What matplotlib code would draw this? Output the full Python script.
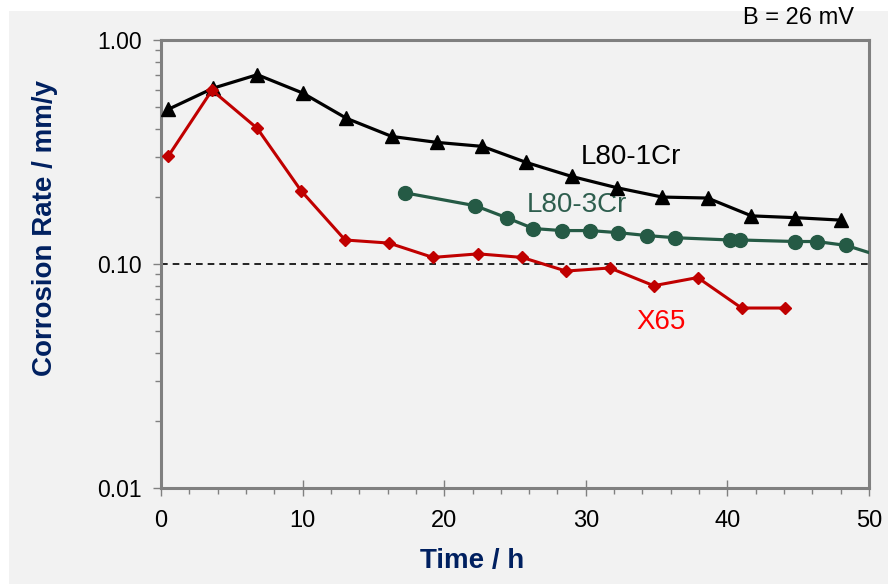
import numpy as np
import matplotlib
matplotlib.use("Agg")
import matplotlib.pyplot as plt
from matplotlib.ticker import FixedLocator, MultipleLocator, FixedFormatter, LogLocator, NullFormatter
from matplotlib.patches import Rectangle

plt.rcParams['font.family'] = ['Liberation Sans', 'DejaVu Sans']

# L80-1Cr (black triangles)
t_1cr = [0.5, 3.7, 6.8, 10.0, 13.1, 16.3, 19.5, 22.7, 25.8, 29.0, 32.2, 35.4, 38.6, 41.7, 44.8, 48.0]
cr_1cr = [0.49, 0.61, 0.70, 0.58, 0.447, 0.371, 0.349, 0.335, 0.284, 0.246, 0.219, 0.199, 0.197, 0.164, 0.161, 0.157]

# L80-3Cr (green circles), last point lies past the axis edge
t_3cr = [17.2, 22.2, 24.4, 26.3, 28.3, 30.3, 32.3, 34.3, 36.3, 40.2, 40.9, 44.8, 46.3, 48.4, 51.5]
cr_3cr = [0.208, 0.182, 0.161, 0.144, 0.141, 0.141, 0.138, 0.134, 0.131, 0.128, 0.128, 0.126, 0.126, 0.121, 0.105]

# X65 (red diamonds)
t_x65 = [0.5, 3.6, 6.8, 9.9, 13.0, 16.1, 19.2, 22.4, 25.5, 28.6, 31.7, 34.8, 37.9, 41.0, 44.1]
cr_x65 = [0.302, 0.597, 0.403, 0.212, 0.128, 0.124, 0.107, 0.111, 0.107, 0.093, 0.096, 0.080, 0.087, 0.0636, 0.0636]

ref_rate = 0.10
y_ticks = [0.01, 0.1, 1.0]
y_labels = ['0.01', '0.10', '1.00']
x_ticks = [0, 10, 20, 30, 40, 50]

fig = plt.figure(figsize=(8.88, 5.84), dpi=100)
fig.patch.set_facecolor('white')
fig.patches.append(Rectangle((9 / 888, 0), 1, 1 - 11 / 584, transform=fig.transFigure,
                             facecolor='#f2f2f2', edgecolor='none', zorder=-10))

ax = fig.add_axes([161 / 888, 1 - 488 / 584, 708 / 888, 448 / 584])
ax.set_facecolor('#f2f2f2')

ax.plot(t_1cr, cr_1cr, color='black', lw=2.3, marker='^', ms=10, zorder=4)
ax.plot(t_3cr, cr_3cr, color='#255a45', lw=2.3, marker='o', ms=10, zorder=3)
ax.plot(t_x65, cr_x65, color='#c00000', lw=2.2, marker='D', ms=6.5, zorder=5)
ax.axhline(ref_rate, color='black', lw=1.2, ls=(0, (4, 3)), zorder=2)

ax.set_yscale('log')
ax.set_ylim(0.01, 1.0)
ax.set_xlim(0, 50)

ax.yaxis.set_major_locator(FixedLocator(y_ticks))
ax.yaxis.set_major_formatter(FixedFormatter(y_labels))
ax.yaxis.set_minor_locator(LogLocator(base=10, subs=np.arange(2, 10)))
ax.yaxis.set_minor_formatter(NullFormatter())
ax.xaxis.set_major_locator(FixedLocator(x_ticks))
ax.xaxis.set_minor_locator(MultipleLocator(2))

for s in ax.spines.values():
    s.set_color('#808080')
    s.set_linewidth(2.2)

ax.tick_params(axis='y', which='major', labelsize=16.5, color='#808080', width=1, length=6, pad=8)
ax.tick_params(axis='x', which='major', labelsize=17, color='#808080', width=1, length=11,
               direction='inout', pad=10)
ax.tick_params(axis='both', which='minor', color='#808080', width=1, length=4, direction='out')

ax.set_xlabel('Time / h', fontsize=20, fontweight='bold', color='#002060')
ax.set_ylabel('Corrosion Rate / mm/y', fontsize=20, fontweight='bold', color='#002060')
ax.xaxis.set_label_coords(0.44, -0.135)
ax.yaxis.set_label_coords(-0.146, 0.58)

ax.text(33.2, 0.30, 'L80-1Cr', fontsize=20, color='black', ha='center', va='center')
ax.text(29.4, 0.184, 'L80-3Cr', fontsize=20, color='#2e5e4e', ha='center', va='center')
ax.text(35.3, 0.055, 'X65', fontsize=20, color='#ff0000', ha='center', va='center')

fig.text(798 / 888, 1 - 18 / 584, 'B = 26 mV', fontsize=17, ha='center', va='center')

fig.savefig('out.png', dpi=100, facecolor=fig.get_facecolor())
